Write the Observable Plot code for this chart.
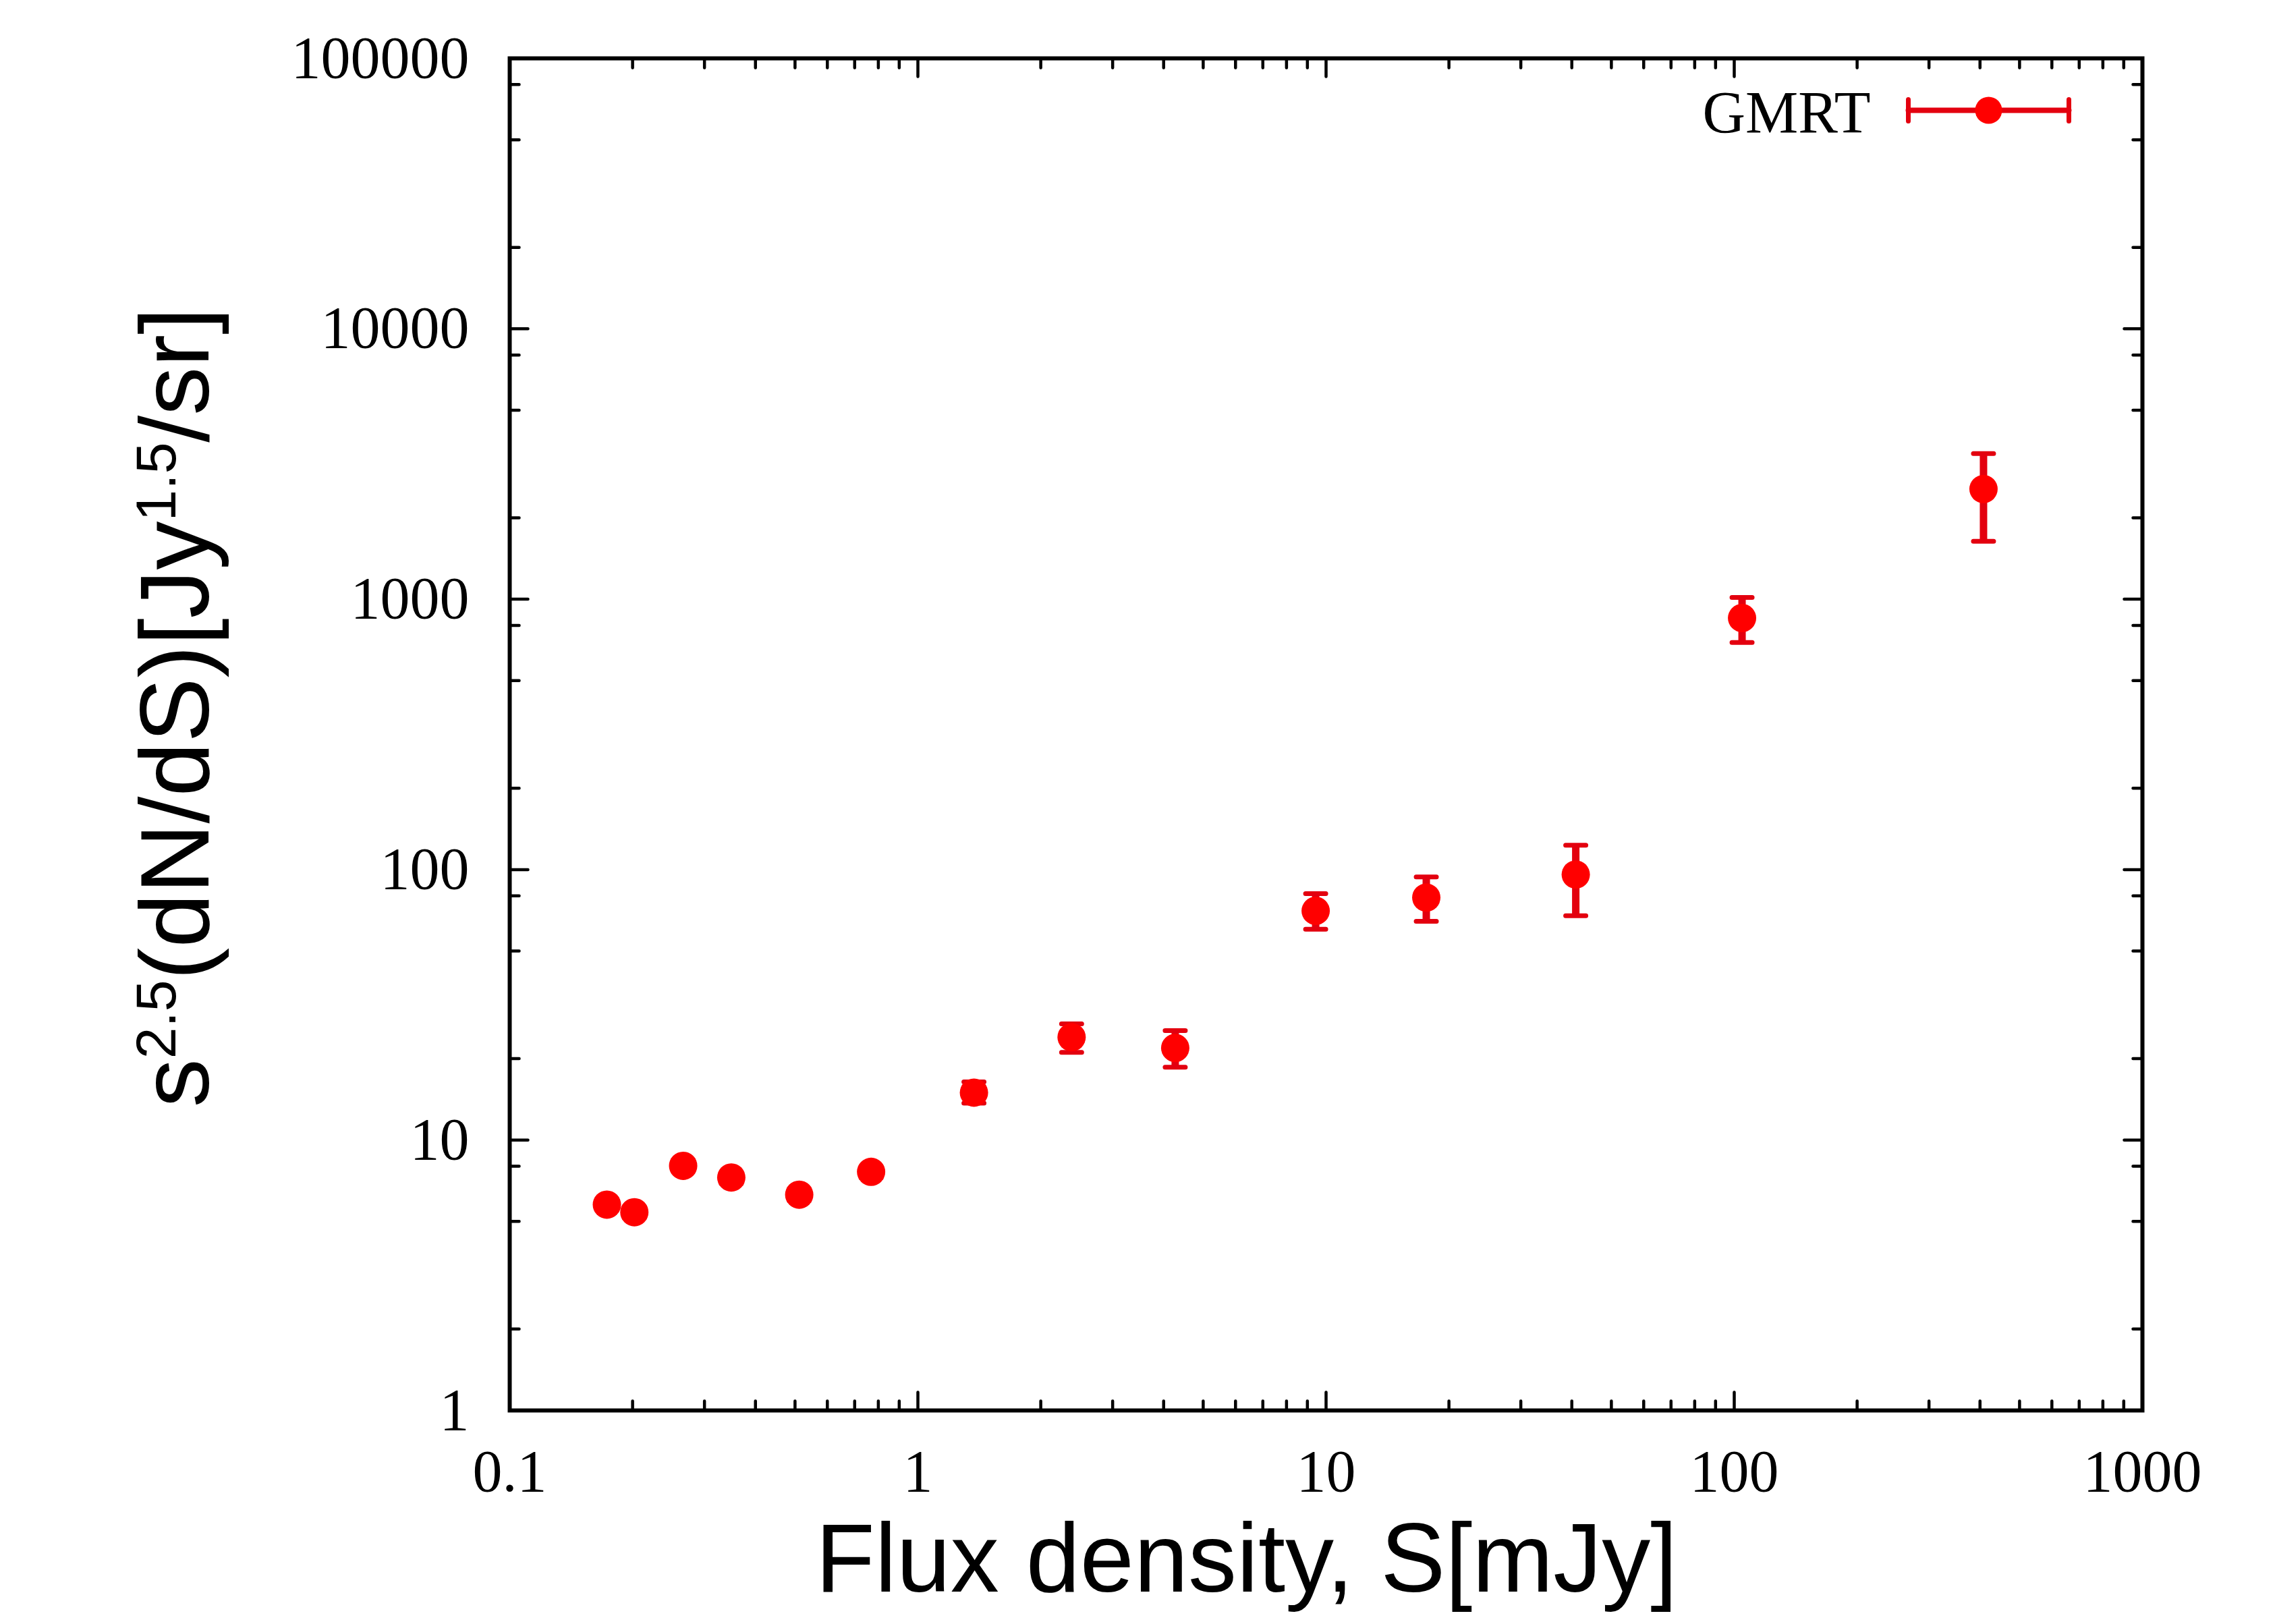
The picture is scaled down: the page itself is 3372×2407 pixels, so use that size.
<!DOCTYPE html>
<html>
<head>
<meta charset="utf-8">
<script src="https://cdn.jsdelivr.net/npm/d3@7"></script>
<script src="https://cdn.jsdelivr.net/npm/@observablehq/plot@0.6"></script>
<style>
  html, body { margin: 0; padding: 0; background: #fff; overflow: hidden; }
  #chart svg { display: block; }
</style>
</head>
<body>
<div id="chart"></div>
<script>
// ---- data ----
const fluxS   = [0.173, 0.202, 0.266, 0.349, 0.512, 0.768, 1.372, 2.38, 4.27, 9.43, 17.6, 40.9, 104.5, 408];
const counts  = [5.77, 5.41, 8.03, 7.27, 6.28, 7.63, 14.97, 24.0, 21.9, 70.4, 78.8, 95.9, 852, 2555];
const errLow  = [5.5, 5.15, 7.65, 6.9, 5.97, 7.25, 13.7, 21.1, 18.6, 60.2, 64.4, 67.5, 692, 1638];
const errHigh = [6.05, 5.68, 8.45, 7.63, 6.6, 8.0, 16.4, 26.9, 25.4, 81.5, 93.9, 123, 1015, 3457];

const xMajor = [0.1, 1, 10, 100, 1000];
const xMajorLabels = ["0.1", "1", "10", "100", "1000"];
const xMinorMult = [2, 3, 4, 5, 6, 7, 8, 9];
const yMajor = [1, 10, 100, 1000, 10000, 100000];
const yMajorLabels = ["1", "10", "100", "1000", "10000", "100000"];
const yMinorMult = [2, 5, 8];

const seriesName = "GMRT";
const xLabel = "Flux density, S[mJy]";
const yLabelPlain = "s2.5(dN/dS)[Jy1.5/sr]";

// ---- derived tables ----
const points = fluxS.map((s, i) => ({S: s, Y: counts[i], lo: errLow[i], hi: errHigh[i]}));
const xMinor = xMajor.slice(0, -1).flatMap(d => xMinorMult.map(m => d * m));
const yMinor = yMajor.slice(0, -1).flatMap(d => yMinorMult.map(m => d * m));

const serif = "Liberation Serif, Times New Roman, serif";
const sans = "Liberation Sans, Arial, Helvetica, sans-serif";
const barColor = "#e3000f";
const dotColor = "#ff0000";
const tickW = 4.5;
const majorLen = 27, minorLen = 14;

function ticks(values, ch, anchor, rotate, len) {
  const o = {frameAnchor: anchor, rotate, length: len, anchor: "start", r: 0,
             stroke: "black", strokeWidth: tickW};
  o[ch] = d => d;
  return Plot.vector(values, o);
}

const chart = Plot.plot({
  width: 3372,
  height: 2407,
  marginLeft: 755,
  marginRight: 197,
  marginTop: 86,
  marginBottom: 317,
  style: {background: "white"},
  x: {type: "log", domain: [0.1, 1000], axis: null},
  y: {type: "log", domain: [1, 100000], axis: null},
  marks: [
    // inward ticks on all four sides
    ticks(xMajor, "x", "bottom", 0, majorLen),
    ticks(xMinor, "x", "bottom", 0, minorLen),
    ticks(xMajor, "x", "top", 180, majorLen),
    ticks(xMinor, "x", "top", 180, minorLen),
    ticks(yMajor, "y", "left", 90, majorLen),
    ticks(yMinor, "y", "left", 90, minorLen),
    ticks(yMajor, "y", "right", -90, majorLen),
    ticks(yMinor, "y", "right", -90, minorLen),
    Plot.frame({stroke: "black", strokeWidth: 6}),
    // tick labels
    Plot.text(xMajor, {x: d => d, frameAnchor: "bottom", dy: 57, lineAnchor: "top", textAnchor: "middle",
      text: (d, i) => xMajorLabels[i], fontSize: 88, fontFamily: serif, fill: "black"}),
    Plot.text(yMajor, {y: d => d, frameAnchor: "left", dx: -60, textAnchor: "end", lineAnchor: "middle",
      text: (d, i) => yMajorLabels[i], fontSize: 88, fontFamily: serif, fill: "black"}),
    // axis titles
    Plot.text([xLabel], {frameAnchor: "bottom", dx: -118, dy: 268, lineAnchor: "bottom", textAnchor: "middle",
      text: d => d, fontSize: 144, fontFamily: sans, fill: "black"}),
    Plot.text([yLabelPlain], {frameAnchor: "left", dx: -447, dy: -40, lineAnchor: "bottom", textAnchor: "middle",
      rotate: -90, text: d => d, fontSize: 144, fontFamily: sans, fill: "black"}),
    // error bars
    Plot.ruleX(points, {x: "S", y1: "lo", y2: "hi", stroke: barColor, strokeWidth: 11}),
    Plot.vector(points, {x: "S", y: "lo", rotate: 90, length: 30, anchor: "middle", r: 0,
      stroke: barColor, strokeWidth: 7}),
    Plot.vector(points, {x: "S", y: "hi", rotate: 90, length: 30, anchor: "middle", r: 0,
      stroke: barColor, strokeWidth: 7}),
    // data points
    Plot.dot(points, {x: "S", y: "Y", r: 21, fill: dotColor, stroke: "none"}),
    // legend (top-right, inside the frame)
    Plot.text([seriesName], {frameAnchor: "top-right", dx: -403, dy: 109, lineAnchor: "bottom",
      textAnchor: "end", text: d => d, fontSize: 88, fontFamily: serif, fill: "black"}),
    Plot.vector([seriesName], {frameAnchor: "top-right", dx: -347, dy: 77, rotate: 90, length: 238,
      anchor: "start", r: 0, stroke: barColor, strokeWidth: 8}),
    Plot.vector([seriesName], {frameAnchor: "top-right", dx: -347, dy: 77, rotate: 0, length: 32,
      anchor: "middle", r: 0, stroke: barColor, strokeWidth: 7}),
    Plot.vector([seriesName], {frameAnchor: "top-right", dx: -109, dy: 77, rotate: 0, length: 32,
      anchor: "middle", r: 0, stroke: barColor, strokeWidth: 7}),
    Plot.dot([seriesName], {frameAnchor: "top-right", dx: -228, dy: 77, r: 20, fill: dotColor, stroke: "none"})
  ]
});

document.getElementById("chart").appendChild(chart);

// superscripts in the y-axis title (kept as real text)
const NS = "http://www.w3.org/2000/svg";
chart.querySelectorAll("text").forEach(t => {
  if (t.textContent === yLabelPlain) {
    while (t.firstChild) t.removeChild(t.firstChild);
    const parts = [
      {s: "s"}, {s: "2.5", sup: true}, {s: "(dN/dS)[Jy"}, {s: "1.5", sup: true}, {s: "/sr]"}
    ];
    let raised = false;
    parts.forEach(p => {
      const ts = document.createElementNS(NS, "tspan");
      ts.textContent = p.s;
      if (p.sup && !raised) { ts.setAttribute("dy", "-49"); ts.setAttribute("font-size", "84"); raised = true; }
      else if (!p.sup && raised) { ts.setAttribute("dy", "49"); raised = false; }
      t.appendChild(ts);
    });
  }
});
</script>
</body>
</html>
